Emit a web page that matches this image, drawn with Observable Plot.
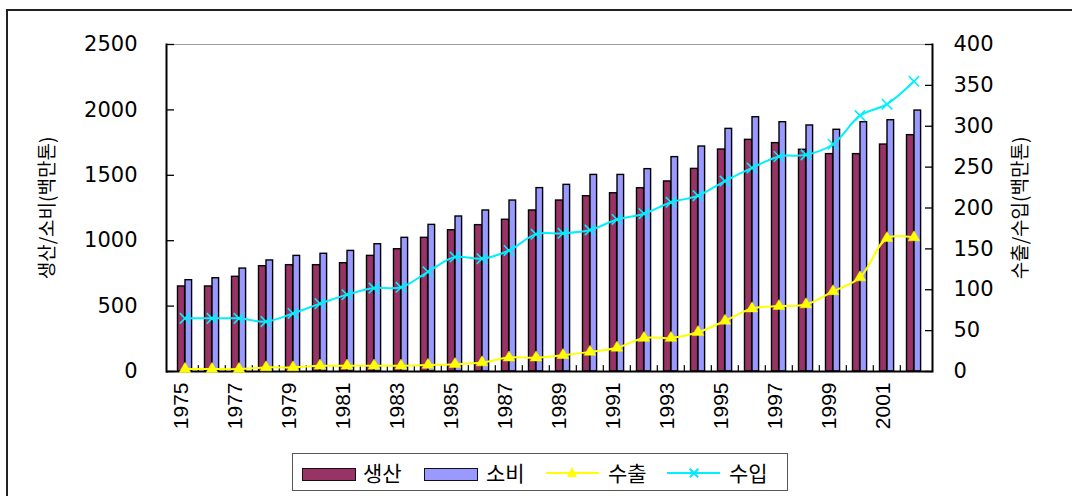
<!DOCTYPE html>
<html>
<head>
<meta charset="utf-8">
<script src="https://cdn.jsdelivr.net/npm/d3@7"></script>
<script src="https://cdn.jsdelivr.net/npm/@observablehq/plot@0.6"></script>
<style>
  body { margin: 0; background: #fff; }
  #wrap { position: relative; width: 1072px; height: 496px; overflow: hidden; background: #fff; }
  #border { position: absolute; left: 6px; top: 9px; width: 1200px; height: 700px; border: 2px solid #222; box-sizing: border-box; pointer-events: none; }
  #chart { position: absolute; left: 0; top: 0; }
  #legend { position: absolute; left: 292px; top: 453px; width: 496px; height: 38px; border: 1.5px solid #555; box-sizing: border-box; background: #fff; }
  .sw { position: absolute; top: 14px; width: 52px; height: 11px; border: 1.5px solid #111; }
  .ln { position: absolute; top: 18px; width: 53px; height: 1.5px; }
  .lt { position: absolute; top: 3px; font-family: "Noto Sans CJK KR", sans-serif; font-size: 21px; line-height: 30px; color: #000; }
  .tri { position: absolute; top: 13px; width: 0; height: 0; border-left: 5.5px solid transparent; border-right: 5.5px solid transparent; border-bottom: 10px solid #ffff00; }
  .xm { position: absolute; top: 18px; width: 12px; height: 1.6px; background: #00e8ff; }
</style>
</head>
<body>
<div id="wrap">
  <div id="chart"></div>
  <div id="legend"></div>
  <div id="border"></div>
</div>
<script>
// ---- data ----
const years = [1975, 1976, 1977, 1978, 1979, 1980, 1981, 1982, 1983, 1984, 1985, 1986, 1987, 1988,
               1989, 1990, 1991, 1992, 1993, 1994, 1995, 1996, 1997, 1998, 1999, 2000, 2001, 2002];
const production  = [650, 650, 724, 805, 813, 813, 828, 884, 935, 1022, 1080, 1119, 1160, 1231,
                     1307, 1340, 1363, 1401, 1453, 1549, 1697, 1771, 1746, 1695, 1662, 1662, 1735, 1807];
const consumption = [698, 713, 787, 849, 884, 900, 922, 973, 1022, 1121, 1185, 1231, 1307, 1402,
                     1427, 1503, 1503, 1547, 1639, 1720, 1855, 1944, 1906, 1881, 1848, 1906, 1921, 1995];
const exportsData = [3, 3, 3, 5, 5, 7, 7, 7, 7, 8, 9, 11, 17, 17,
                     20, 24, 29, 41, 41, 48, 62, 77, 80, 82, 98, 115, 163, 164];
const importsData = [65, 65, 65, 61, 71, 83, 94, 102, 103, 122, 140, 138, 148, 168,
                     169, 173, 186, 193, 207, 215, 233, 249, 263, 265, 278, 313, 327, 355];
const yearTickLabels = [1975, 1977, 1979, 1981, 1983, 1985, 1987, 1989, 1991, 1993, 1995, 1997, 1999, 2001];
const leftTicks  = [0, 500, 1000, 1500, 2000, 2500];
const rightTicks = [0, 50, 100, 150, 200, 250, 300, 350, 400];
const seriesNames = ["생산", "소비", "수출", "수입"];
const leftTitle  = "생산/소비(백만톤)";
const rightTitle = "수출/수입(백만톤)";

// ---- styles ----
const C_PROD = "#993366", C_CONS = "#9999ff", C_EXP = "#ffff00", C_IMP = "#00f0ff";
const W = 1072, H = 440, ML = 166, MR = 140, MT = 44, MB = 69;
const leftMax = leftTicks[leftTicks.length - 1];
const rightMax = rightTicks[rightTicks.length - 1];
const k = leftMax / rightMax; // right-axis values mapped onto left scale
const halfBand = (W - ML - MR) / years.length / 2;

const rows = years.map((year, i) => ({
  year, production: production[i], consumption: consumption[i],
  exp: exportsData[i], imp: importsData[i]
}));

const tickShape = { draw(ctx, l) { ctx.moveTo(0, 0); ctx.lineTo(0, -l); } };

const chart = Plot.plot({
  width: W, height: H,
  marginLeft: ML, marginRight: MR, marginTop: MT, marginBottom: MB,
  style: { fontFamily: "'DejaVu Sans', sans-serif", fontSize: "20px", background: "transparent", color: "#000" },
  x: { type: "band", domain: years, padding: 0 },
  y: { domain: [0, leftMax] },
  marks: [
    Plot.frame({ stroke: "#a0a0a0", strokeWidth: 1 }),
    Plot.barY(rows, { x: "year", y: "production", fill: C_PROD, stroke: "#000", strokeWidth: 1.4, insetLeft: 6.5, insetRight: 13.4 }),
    Plot.barY(rows, { x: "year", y: "consumption", fill: C_CONS, stroke: "#000", strokeWidth: 1.4, insetLeft: 14, insetRight: 6.4 }),
    Plot.vector(rows.slice(1), { x: "year", frameAnchor: "bottom", length: 6, anchor: "start", shape: tickShape, dx: -halfBand, stroke: "#000", strokeWidth: 1.2 }),
    Plot.ruleY([0], { stroke: "#000", strokeWidth: 2 }),
    Plot.frame({ anchor: "left", stroke: "#000", strokeWidth: 2 }),
    Plot.frame({ anchor: "right", stroke: "#000", strokeWidth: 2 }),
    Plot.line(rows, { x: "year", y: d => d.exp * k, stroke: C_EXP, strokeWidth: 2, curve: "catmull-rom" }),
    Plot.dot(rows, { x: "year", y: d => d.exp * k, symbol: "triangle", r: 4.3, fill: C_EXP, stroke: C_EXP, strokeWidth: 0.5 }),
    Plot.line(rows, { x: "year", y: d => d.imp * k, stroke: C_IMP, strokeWidth: 2, curve: "catmull-rom" }),
    Plot.dot(rows, { x: "year", y: d => d.imp * k, symbol: "times", r: 4.8, stroke: C_IMP, strokeWidth: 1.6 }),
    // left axis: inward ticks + labels
    Plot.axisY({ ticks: leftTicks, tickSize: 8, dx: 8, tickFormat: () => "", label: null, strokeWidth: 1.3 }),
    Plot.axisY({ ticks: leftTicks, tickSize: 0, tickPadding: 29, tickFormat: d => String(d), label: null, fontSize: 21 }),
    // right axis
    Plot.axisY({ anchor: "right", ticks: rightTicks.map(v => v * k), tickSize: 8, dx: -8, tickFormat: () => "", label: null, strokeWidth: 1.3 }),
    Plot.axisY({ anchor: "right", ticks: rightTicks.map(v => v * k), tickSize: 0, tickPadding: 21, tickFormat: d => String(Math.round(d / k)), label: null, fontSize: 21 }),
    // x axis
    Plot.axisX({ ticks: yearTickLabels, tickSize: 0, tickPadding: 11, tickRotate: -90, tickFormat: d => String(d), label: null, dx: -4, fontSize: 21, fontFamily: "'Liberation Sans', sans-serif" }),
    // axis titles
    Plot.text([leftTitle], { text: d => d, frameAnchor: "left", dx: -119, rotate: -90, textAnchor: "middle", fontSize: 19, fontFamily: "'Noto Sans CJK KR', sans-serif" }),
    Plot.text([rightTitle], { text: d => d, frameAnchor: "right", dx: 88, rotate: -90, textAnchor: "middle", fontSize: 19, fontFamily: "'Noto Sans CJK KR', sans-serif" })
  ]
});
document.getElementById("chart").appendChild(chart);

// ---- legend (HTML, below the SVG) ----
const legend = document.getElementById("legend");
const items = [
  { kind: "bar", color: C_PROD, sx: 9, tx: 70 },
  { kind: "bar", color: C_CONS, sx: 131, tx: 193 },
  { kind: "tri", color: C_EXP, sx: 253, tx: 315 },
  { kind: "x", color: C_IMP, sx: 374, tx: 436 }
];
items.forEach((it, i) => {
  if (it.kind === "bar") {
    const s = document.createElement("div");
    s.className = "sw"; s.style.left = it.sx + "px"; s.style.background = it.color;
    legend.appendChild(s);
  } else {
    const l = document.createElement("div");
    l.className = "ln"; l.style.left = it.sx + "px"; l.style.background = it.color;
    legend.appendChild(l);
    if (it.kind === "tri") {
      const t = document.createElement("div");
      t.className = "tri"; t.style.left = (it.sx + 21) + "px";
      legend.appendChild(t);
    } else {
      [45, -45].forEach(a => {
        const x = document.createElement("div");
        x.className = "xm"; x.style.left = (it.sx + 21) + "px"; x.style.transform = "rotate(" + a + "deg)";
        legend.appendChild(x);
      });
    }
  }
  const t = document.createElement("div");
  t.className = "lt"; t.style.left = it.tx + "px"; t.textContent = seriesNames[i];
  legend.appendChild(t);
});
</script>
</body>
</html>
